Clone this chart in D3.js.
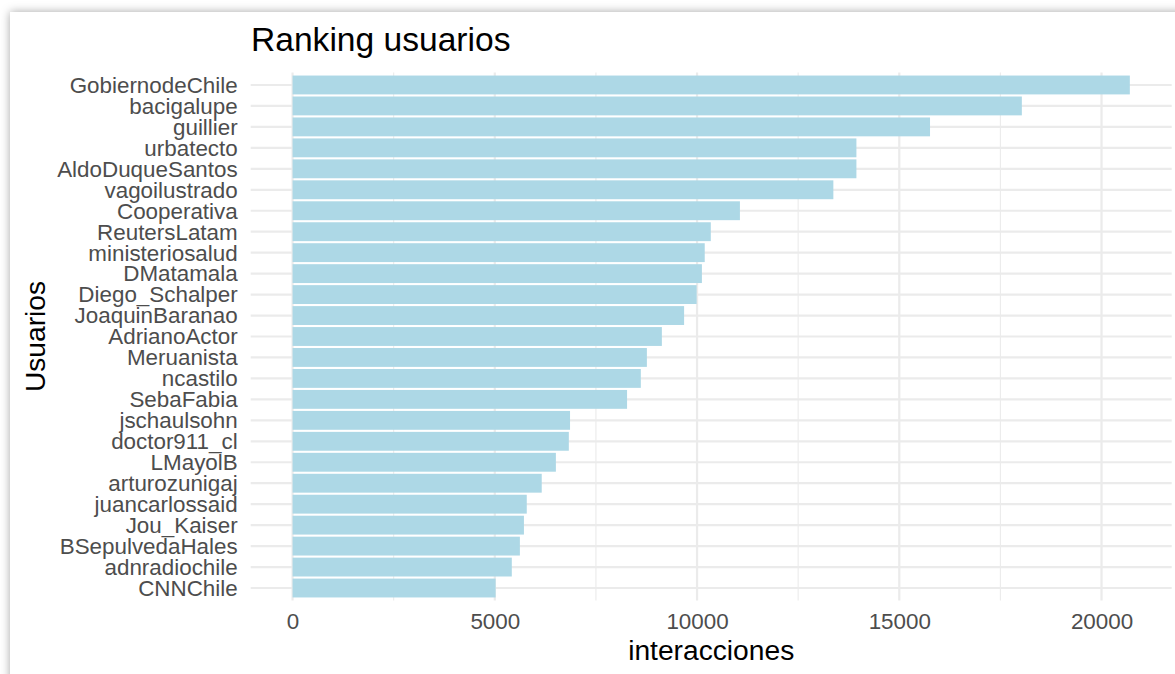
<!DOCTYPE html>
<html>
<head>
<meta charset="utf-8">
<script src="https://cdn.jsdelivr.net/npm/d3@7"></script>
<style>
  body { margin: 0; background: #fff; overflow: hidden; width: 1175px; height: 674px; position: relative; }
  .card { position: absolute; left: 10px; top: 12px; width: 1220px; height: 720px; background: #fff;
          box-shadow: 0 0 9px rgba(0,0,0,0.35); }
  svg { position: absolute; left: 0; top: 0; font-family: "Liberation Sans", Arial, sans-serif; }
</style>
</head>
<body>
<div class="card"></div>
<svg width="1175" height="674"></svg>
<script>
// usuarios, ordenados de mayor a menor
const usuarios = ["GobiernodeChile", "bacigalupe", "guillier", "urbatecto", "AldoDuqueSantos",
  "vagoilustrado", "Cooperativa", "ReutersLatam", "ministeriosalud", "DMatamala",
  "Diego_Schalper", "JoaquinBaranao", "AdrianoActor", "Meruanista", "ncastilo",
  "SebaFabia", "jschaulsohn", "doctor911_cl", "LMayolB", "arturozunigaj",
  "juancarlossaid", "Jou_Kaiser", "BSepulvedaHales", "adnradiochile", "CNNChile"];

const interacciones = [20700, 18030, 15760, 13940, 13940,
  13370, 11060, 10340, 10190, 10120,
  9990, 9680, 9130, 8760, 8610,
  8270, 6860, 6830, 6510, 6160,
  5790, 5720, 5620, 5420, 5020];

const majorTicks = [0, 5000, 10000, 15000, 20000];
const minorTicks = [2500, 7500, 12500, 17500];

const data = usuarios.map((u, i) => ({ usuario: u, n: interacciones[i] }));

const svg = d3.select("svg");
const panel = { left: 250.7, right: 1171.7, top: 72.4, bottom: 600.6 };

const maxN = d3.max(interacciones);
const x = d3.scaleLinear()
    .domain([-0.05 * maxN, 1.05 * maxN])
    .range([panel.left, panel.right]);

const y = d3.scaleBand()
    .domain(usuarios)
    .range([panel.top, panel.bottom])
    .paddingInner(0.1)
    .paddingOuter(0.15);

const grid = svg.append("g").attr("class", "grid");

// minor vertical gridlines
grid.selectAll("line.minor")
    .data(minorTicks)
    .enter().append("line")
    .attr("class", "minor")
    .attr("x1", d => x(d)).attr("x2", d => x(d))
    .attr("y1", panel.top).attr("y2", panel.bottom)
    .attr("stroke", "#ebebeb").attr("stroke-width", 1.1);

// major vertical gridlines
grid.selectAll("line.major")
    .data(majorTicks)
    .enter().append("line")
    .attr("class", "major")
    .attr("x1", d => x(d)).attr("x2", d => x(d))
    .attr("y1", panel.top).attr("y2", panel.bottom)
    .attr("stroke", "#ebebeb").attr("stroke-width", 2.2);

// horizontal gridlines, one per usuario
grid.selectAll("line.hy")
    .data(usuarios)
    .enter().append("line")
    .attr("class", "hy")
    .attr("x1", panel.left).attr("x2", panel.right)
    .attr("y1", d => y(d) + y.bandwidth() / 2)
    .attr("y2", d => y(d) + y.bandwidth() / 2)
    .attr("stroke", "#ebebeb").attr("stroke-width", 2.2);

// bars
svg.append("g")
    .selectAll("rect")
    .data(data)
    .enter().append("rect")
    .attr("x", x(0))
    .attr("y", d => y(d.usuario))
    .attr("width", d => x(d.n) - x(0))
    .attr("height", y.bandwidth())
    .attr("fill", "#ADD8E6");

// x axis (no line, no ticks)
const xAxis = svg.append("g")
    .attr("transform", `translate(0,${panel.bottom})`)
    .call(d3.axisBottom(x).tickValues(majorTicks).tickFormat(d3.format("d")).tickSize(0).tickPadding(0));
xAxis.select(".domain").remove();
xAxis.selectAll("text")
    .attr("y", 28.5).attr("dy", null)
    .attr("font-size", 22.4).attr("fill", "#4d4d4d")
    .attr("font-family", "Liberation Sans, Arial, sans-serif");

// y axis
const yAxis = svg.append("g")
    .attr("transform", `translate(${panel.left},0)`)
    .call(d3.axisLeft(y).tickSize(0).tickPadding(13));
yAxis.select(".domain").remove();
yAxis.selectAll("text")
    .attr("dy", "0.35em")
    .attr("font-size", 22.4).attr("fill", "#4d4d4d")
    .attr("font-family", "Liberation Sans, Arial, sans-serif");

// titles
svg.append("text")
    .attr("x", 251).attr("y", 51)
    .attr("font-size", 33.6).attr("fill", "#000")
    .text("Ranking usuarios");

svg.append("text")
    .attr("x", (panel.left + panel.right) / 2).attr("y", 660)
    .attr("text-anchor", "middle")
    .attr("font-size", 28.2).attr("fill", "#000")
    .text("interacciones");

svg.append("text")
    .attr("transform", `translate(44.5,${(panel.top + panel.bottom) / 2}) rotate(-90)`)
    .attr("text-anchor", "middle")
    .attr("font-size", 28.2).attr("fill", "#000")
    .text("Usuarios");
</script>
</body>
</html>
